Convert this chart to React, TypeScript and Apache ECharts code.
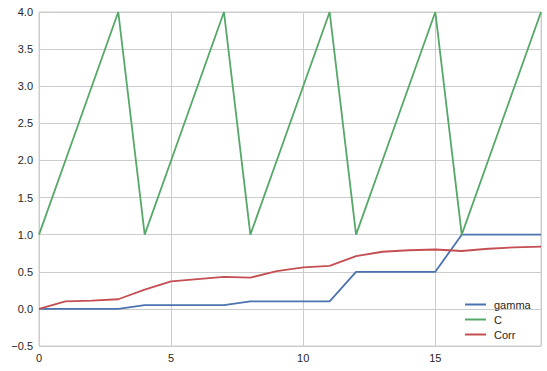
import React, { useEffect, useRef } from "react";
import * as echarts from "echarts";

const xs = [0, 1, 2, 3, 4, 5, 6, 7, 8, 9, 10, 11, 12, 13, 14, 15, 16, 17, 18, 19];
const gamma = [0, 0, 0, 0, 0.05, 0.05, 0.05, 0.05, 0.1, 0.1, 0.1, 0.1, 0.5, 0.5, 0.5, 0.5, 1, 1, 1, 1];
const C = [1, 2, 3, 4, 1, 2, 3, 4, 1, 2, 3, 4, 1, 2, 3, 4, 1, 2, 3, 4];
const Corr = [0, 0.1, 0.11, 0.13, 0.26, 0.37, 0.4, 0.43, 0.42, 0.51, 0.56, 0.58, 0.71, 0.77, 0.79, 0.8, 0.78, 0.81, 0.83, 0.84];
const seriesNames = ["gamma", "C", "Corr"];
const colors = ["#4C72B0", "#55A868", "#C44E52"];

export default function App() {
  const ref = useRef<HTMLDivElement>(null);
  useEffect(() => {
    const chart = echarts.init(ref.current!, null, { renderer: "svg" });
    const font = "'Liberation Sans', Arial, sans-serif";
    const all = [gamma, C, Corr];
    chart.setOption({
      animation: false,
      textStyle: { fontFamily: font },
      grid: { left: 39, right: 6, top: 12, bottom: 25, show: true, borderColor: "#cccccc", borderWidth: 1, containLabel: false },
      legend: {
        orient: "vertical",
        left: 460,
        top: 294,
        itemGap: 4,
        itemWidth: 21,
        itemHeight: 2,
        icon: "rect",
        textStyle: { color: "#262626", fontSize: 11, fontFamily: font, padding: [0, 0, 0, 3] },
        data: seriesNames,
      },
      xAxis: {
        type: "value",
        min: 0,
        max: 19,
        interval: 5,
        axisLine: { show: false },
        axisTick: { show: false },
        splitLine: { show: true, lineStyle: { color: "#cccccc", width: 1 } },
        axisLabel: { color: "#262626", fontSize: 11, margin: 6, fontFamily: font, showMaxLabel: false },
      },
      yAxis: {
        type: "value",
        min: -0.5,
        max: 4.0,
        interval: 0.5,
        axisLine: { show: false },
        axisTick: { show: false },
        splitLine: { show: true, lineStyle: { color: "#cccccc", width: 1 } },
        axisLabel: {
          color: "#262626",
          fontSize: 11,
          margin: 6,
          fontFamily: font,
          formatter: (v: number) => v.toFixed(1).replace("-", "\u2212"),
        },
      },
      series: seriesNames.map((n, i) => ({
        name: n,
        type: "line",
        data: xs.map((x, j) => [x, all[i][j]]),
        symbol: "none",
        lineStyle: { color: colors[i], width: 1.8 },
        itemStyle: { color: colors[i] },
      })),
    });
    return () => chart.dispose();
  }, []);
  return <div ref={ref} style={{ width: 547, height: 371, position: "absolute", left: 0, top: 0, background: "#fff" }} />;
}
